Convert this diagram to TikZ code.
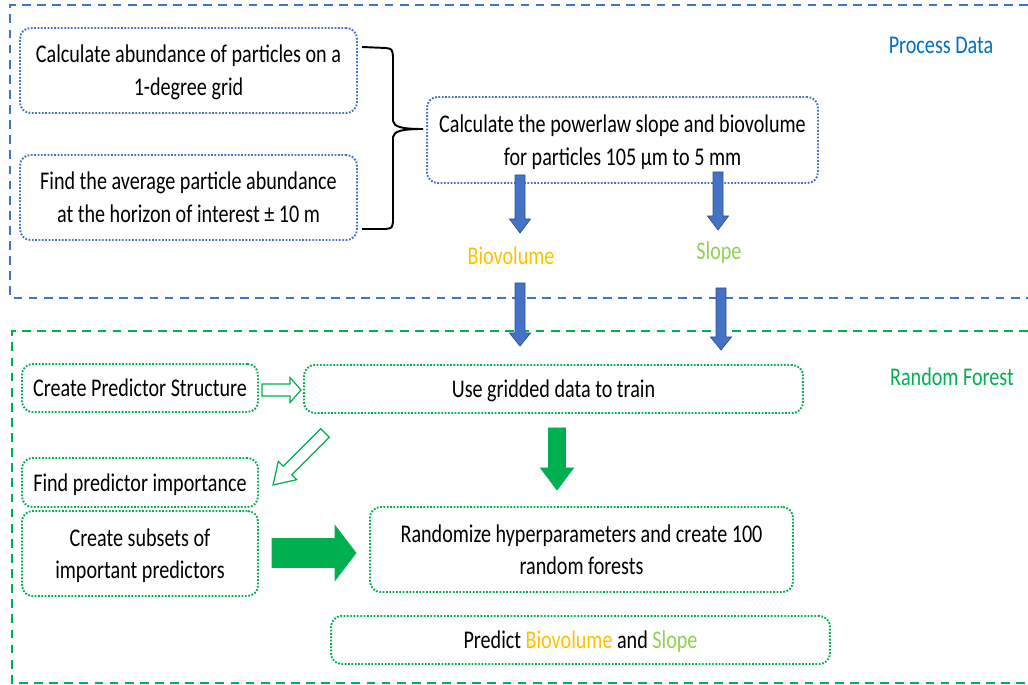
\documentclass[tikz,border=0pt]{standalone}
\usepackage{fontspec}
\setmainfont[FakeStretch=0.79]{Carlito}
\definecolor{procblue}{HTML}{4472C4}
\definecolor{procline}{HTML}{2F528F}
\definecolor{rfgreen}{HTML}{00B050}
\definecolor{biocol}{HTML}{FFC000}
\definecolor{slopecol}{HTML}{92D050}
\definecolor{titleblue}{HTML}{0070C0}
\tikzset{
  frame/.style={line width=1.6pt, dash pattern=on 5pt off 3.6pt},
  pbox/.style={draw=procblue, line width=1.1pt, dash pattern=on 1pt off 0.9pt, rounded corners=6pt, align=center, inner sep=0pt, text depth=0pt},
  rbox/.style={pbox, draw=rfgreen},
  bluearr/.style={fill=procblue, draw=procline, line width=0.4pt},
  greenarr/.style={fill=rfgreen, draw=rfgreen, line width=0.4pt},
  hollowarr/.style={fill=white, draw=rfgreen, line width=0.7pt, line join=miter},
}
\begin{document}
\begin{tikzpicture}[x=0.02cm, y=-0.02cm, font=\fontsize{14.5}{18.6}\selectfont]
	\useasboundingbox (0,0) rectangle (1028,685);
	% sections
	\draw[frame, procblue] (1028,5) -- (10,5) -- (10,298) -- (1028,298);
	\draw[frame, rfgreen] (1028,331) -- (12,331) -- (12,683) -- (1028,683);
	\node[text=titleblue] (proctitle) at (941,45) {Process Data};
	\node[text=rfgreen] (rftitle) at (952,377) {Random Forest};

	% process data
	\node[pbox, minimum width=6.74cm, minimum height=1.7cm] (calcgrid) at (188.5,70.5) {Calculate abundance of particles on a\\1-degree grid};
	\node[pbox, minimum width=6.74cm, minimum height=1.7cm] (avghoriz) at (188.5,197.5) {Find the average particle abundance\\at the horizon of interest ± 10 m};
	\node[pbox, minimum width=7.82cm, minimum height=1.72cm] (powerlaw) at (622.5,140) {Calculate the powerlaw slope and biovolume\\for particles 105 µm to 5 mm};
	\coordinate (bracetop) at (362,47);
	\coordinate (bracebot) at (362,229);
	\coordinate (bracetip) at (423,129);
	\draw[line width=1.1pt] (bracetop) -- (386,48) .. controls (392,49) .. (393,56) -- (393,121)
		.. controls (394,127) and (402,129) .. (bracetip)
		.. controls (402,129) and (394,131) .. (393,137) -- (393,222) .. controls (392,228) .. (386,229) -- (bracebot);
	\node[text=biocol] (biovol) at (511,256) {Biovolume};
	\node[text=slopecol] (slope) at (719,253) {Slope};
	\draw[bluearr] (515,175) -- (525,175) -- (525,219) -- (530.5,219) -- (520,233) -- (509.5,219) -- (515,219) -- cycle;
	\draw[bluearr] (713,172) -- (723,172) -- (723,216) -- (728.5,216) -- (718,230) -- (707.5,216) -- (713,216) -- cycle;
	\draw[bluearr] (515,283) -- (525,283) -- (525,333) -- (530.5,333) -- (520,346) -- (509.5,333) -- (515,333) -- cycle;
	\draw[bluearr] (716,288) -- (726,288) -- (726,337) -- (731.5,337) -- (721,350) -- (710.5,337) -- (716,337) -- cycle;

	% random forest
	\node[rbox, minimum width=4.72cm, minimum height=0.96cm] (predstruct) at (140,388) {Create Predictor Structure};
	\node[rbox, minimum width=9.98cm, minimum height=0.96cm] (train) at (553.5,389) {Use gridded data to train};
	\node[rbox, minimum width=4.72cm, minimum height=0.98cm] (importance) at (140,482.5) {Find predictor importance};
	\node[rbox, minimum width=4.72cm, minimum height=1.7cm] (subsets) at (140,553.5) {Create subsets of\\important predictors};
	\node[rbox, minimum width=8.46cm, minimum height=1.7cm] (randomize) at (581.5,549.5) {Randomize hyperparameters and create 100\\random forests};
	\node[rbox, minimum width=9.98cm, minimum height=0.96cm] (predict) at (580.5,640) {Predict \textcolor{biocol}{Biovolume} and \textcolor{slopecol}{Slope}};
	\draw[hollowarr] (262,384) -- (290,384) -- (290,377.5) -- (301,390) -- (290,402.5) -- (290,396) -- (262,396) -- cycle;
	\begin{scope}[shift={(325,433)}, rotate=225]
		\draw[hollowarr] (0,-6) -- (53,-6) -- (53,-13) -- (73.5,0) -- (53,13) -- (53,6) -- (0,6) -- cycle;
	\end{scope}
	\draw[greenarr] (548.5,428) -- (565.5,428) -- (565.5,468) -- (573.5,468) -- (557,490) -- (540.5,468) -- (548.5,468) -- cycle;
	\draw[greenarr] (272,538.5) -- (335,538.5) -- (335,525.5) -- (356,553) -- (335,580.5) -- (335,567.5) -- (272,567.5) -- cycle;
\end{tikzpicture}
\end{document}
